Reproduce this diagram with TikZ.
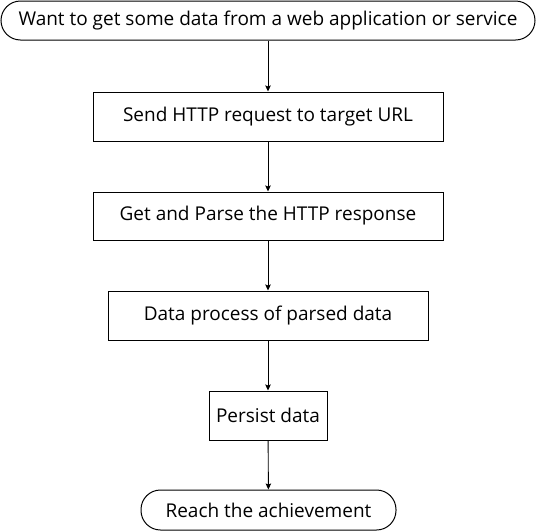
\documentclass[tikz,border=0pt]{standalone}
\usepackage{fontspec}
\setmainfont{Open Sans}
\usetikzlibrary{arrows.meta}
\begin{document}
\begin{tikzpicture}[x=1pt,y=-1pt,
  every node/.style={font=\fontsize{19}{22}\selectfont, inner sep=0pt, line width=1pt, draw, text=black},
  proc/.style={rectangle},
  term/.style={rectangle, rounded corners=19.5pt},
  conn/.style={line width=0.9pt, -{Stealth[length=6pt,width=5.5pt,inset=1pt]}}]
\useasboundingbox (0,0) rectangle (536,531);
\node[term, minimum width=534pt, minimum height=39pt] (a) at (268,20.5) {Want to get some data from a web application or service};
\node[proc, minimum width=350pt, minimum height=49pt] (b) at (268,116.5) {Send HTTP request to target URL};
\node[proc, minimum width=350pt, minimum height=48pt] (c) at (268,216) {Get and Parse the HTTP response};
\node[proc, minimum width=320pt, minimum height=49pt] (d) at (268,315.5) {Data process of parsed data};
\node[proc, minimum width=118pt, minimum height=49pt] (e) at (268,415.5) {Persist data};
\node[term, minimum width=255pt, minimum height=40pt] (f) at (268.5,510) {Reach the achievement};
\draw[conn] (a) -- (b);
\draw[conn] (b) -- (c);
\draw[conn] (c) -- (d);
\draw[conn] (d) -- (e);
\draw[conn] (e) -- (f);
\end{tikzpicture}
\end{document}
